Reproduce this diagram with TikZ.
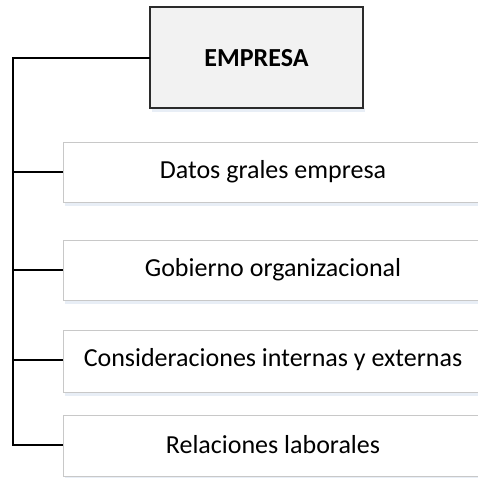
\documentclass[tikz,border=0pt]{standalone}
\usepackage{fontspec}
\setmainfont{Carlito}
\begin{document}
\begin{tikzpicture}[x=1pt,y=-1pt,
  itembox/.style={draw=boxgray, line width=1pt, fill=white},
  topbox/.style={draw=topgray, line width=1.4pt, fill=topfill},
  conn/.style={draw=black, line width=1.8pt},
  lbl/.style={font=\fontsize{26}{30}\selectfont, text=black, inner sep=0pt},
  toplbl/.style={font=\fontsize{26}{30}\selectfont\bfseries, text=black, inner sep=0pt}]
\definecolor{shadowblue}{HTML}{E8EEF6}
\definecolor{boxgray}{HTML}{C8C8C8}
\definecolor{topgray}{HTML}{2B2B2B}
\definecolor{topfill}{HTML}{F2F2F2}
\useasboundingbox (0,0) rectangle (478,477);
\clip (0,0) rectangle (478,477);
\fill[white] (0,0) rectangle (478,477);
% top box
\fill[shadowblue] (152,108) rectangle (365,112);
\draw[topbox] (150,7) rectangle (363,108);
\node[toplbl] (emp) at (256.5,58) {EMPRESA};
\coordinate (empW) at (150,58);
% item boxes
\foreach \t/\b in {142/202, 240/300, 330/392, 415/476}{
  \fill[shadowblue] (65,\b) rectangle (482,\b+4);
  \draw[itembox] (63,\t) rectangle (482,\b);
}
\node[lbl] (a) at (273,172) {Datos grales empresa};
\node[lbl] (b) at (273,270) {Gobierno organizacional};
\node[lbl] (c) at (273,360) {Consideraciones internas y externas};
\node[lbl] (d) at (273,445) {Relaciones laborales};
\coordinate (aW) at (63,172);
\coordinate (bW) at (63,270);
\coordinate (cW) at (63,360);
\coordinate (dW) at (63,445);
\coordinate (top) at (13,58);
\coordinate (bot) at (13,445);
\draw[conn] (empW) -- (top) -- (bot) -- (dW);
\draw[conn] (aW) -- (aW -| top);
\draw[conn] (bW) -- (bW -| top);
\draw[conn] (cW) -- (cW -| top);
\end{tikzpicture}
\end{document}
